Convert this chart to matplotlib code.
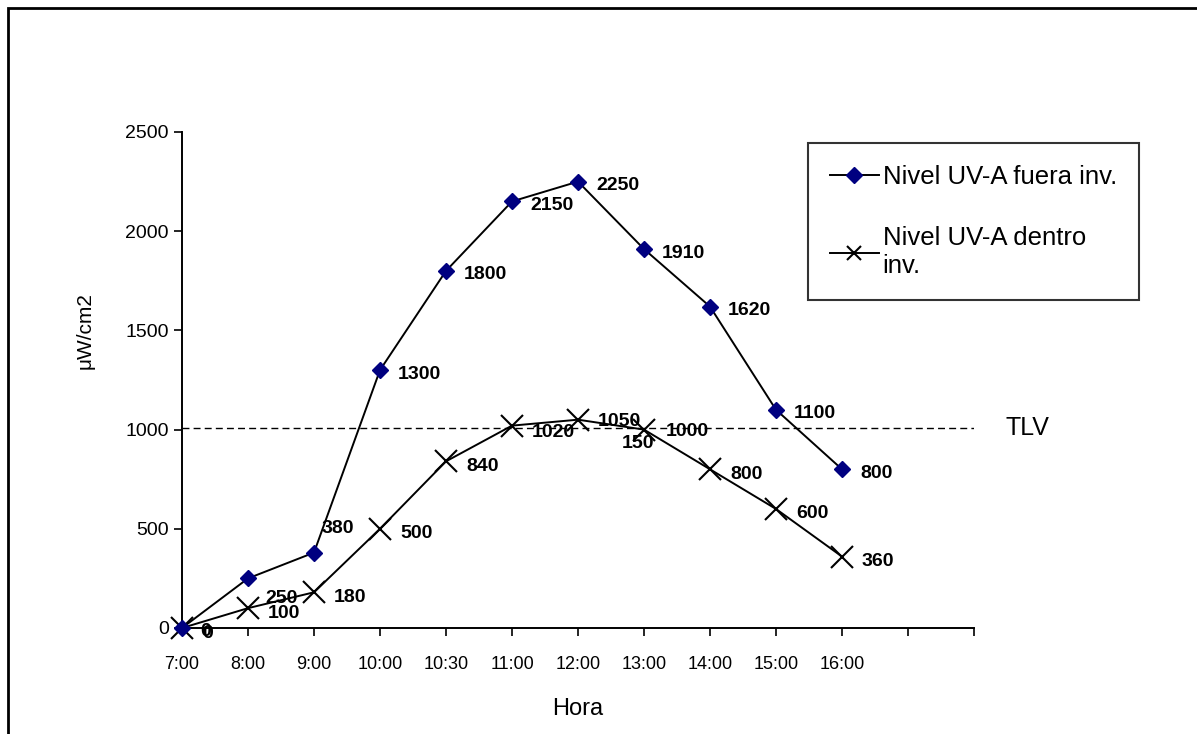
import matplotlib
matplotlib.use("Agg")
import matplotlib.pyplot as plt
from matplotlib.patches import Rectangle

horas = ["7:00", "8:00", "9:00", "10:00", "10:30", "11:00", "12:00",
         "13:00", "14:00", "15:00", "16:00"]
fuera = [0, 250, 380, 1300, 1800, 2150, 2250, 1910, 1620, 1100, 800]
dentro = [0, 100, 180, 500, 840, 1020, 1050, 1000, 800, 600, 360]
tlv = 1010

plt.rcParams['font.family'] = ['Liberation Sans', 'DejaVu Sans']

fig = plt.figure(figsize=(11.97, 7.34), dpi=100)
W, H = 1197, 734

# outer chart frame (only left and top edges fall inside the image)
fig.patches.append(Rectangle((8 / W, -0.1), 1.2, 1 - 8 / H + 0.1,
                             transform=fig.transFigure, fill=False,
                             edgecolor='black', linewidth=2))

ax = fig.add_axes([182 / W, 1 - 628 / H, (974 - 182) / W, (628 - 132) / H])
x = list(range(len(horas)))

ax.plot(x, fuera, color='black', lw=1.4, marker='D', ms=8,
        mfc='#000080', mec='#000080', clip_on=False, zorder=4,
        label='Nivel UV-A fuera inv.')
ax.plot(x, dentro, color='black', lw=1.4, marker='x', ms=16, mew=1.5,
        mec='black', clip_on=False, zorder=3,
        label='Nivel UV-A dentro\ninv.')
ax.axhline(tlv, color='black', lw=1, ls=(0, (5, 3)), zorder=2)
ax.text(1.04, tlv, 'TLV', transform=ax.get_yaxis_transform(),
        fontsize=18, va='center', ha='left')

# data labels (pixel offsets from the point)
off_fuera = {1: (17, -20), 2: (8, 24)}
for i, v in enumerate(fuera):
    dx, dy = off_fuera.get(i, (18, -4))
    ax.annotate(str(v), (i, v), xytext=(dx, dy), textcoords='offset pixels',
                fontsize=14, fontweight='bold', ha='left', va='center',
                annotation_clip=False)
off_dentro = {5: (20, -7), 6: (20, -2), 7: (22, -2)}
for i, v in enumerate(dentro):
    dx, dy = off_dentro.get(i, (20, -5))
    ax.annotate(str(v), (i, v), xytext=(dx, dy), textcoords='offset pixels',
                fontsize=14, fontweight='bold', ha='left', va='center',
                annotation_clip=False, zorder=5)
ax.annotate('150', (7, dentro[7]), xytext=(-22, -14), textcoords='offset pixels',
            fontsize=14, fontweight='bold', ha='left', va='center')

ax.set_xlim(0, 12)
ax.set_ylim(0, 2500)
ax.set_xticks(range(13))
ax.set_xticklabels(horas + ["", ""], fontsize=13)
ax.set_yticks(range(0, 2501, 500))
ax.tick_params(axis='y', labelsize=14, direction='out', length=6, width=1.2)
ax.tick_params(axis='x', direction='out', length=6, width=1.2, pad=14)
for s in ['top', 'right']:
    ax.spines[s].set_visible(False)
for s in ['left', 'bottom']:
    ax.spines[s].set_linewidth(1.4)

ax.set_xlabel('Hora', fontsize=17, labelpad=18)
ax.set_ylabel('\u03bcW/cm2', fontsize=15)
ax.yaxis.set_label_coords(-0.11, 0.6)

leg = fig.legend(loc='upper left', bbox_to_anchor=(808 / W, 1 - 143 / H),
                 bbox_transform=fig.transFigure, fontsize=18.5, frameon=True,
                 fancybox=False, edgecolor='black', borderaxespad=0,
                 handlelength=1.9, handletextpad=0.15, labelspacing=1.45,
                 borderpad=0.85)
leg.get_frame().set_linewidth(1.5)
hs = leg.legend_handles
hs[0].set_markersize(8)
hs[1].set_markersize(10)

fig.savefig('out.png', dpi=100)
